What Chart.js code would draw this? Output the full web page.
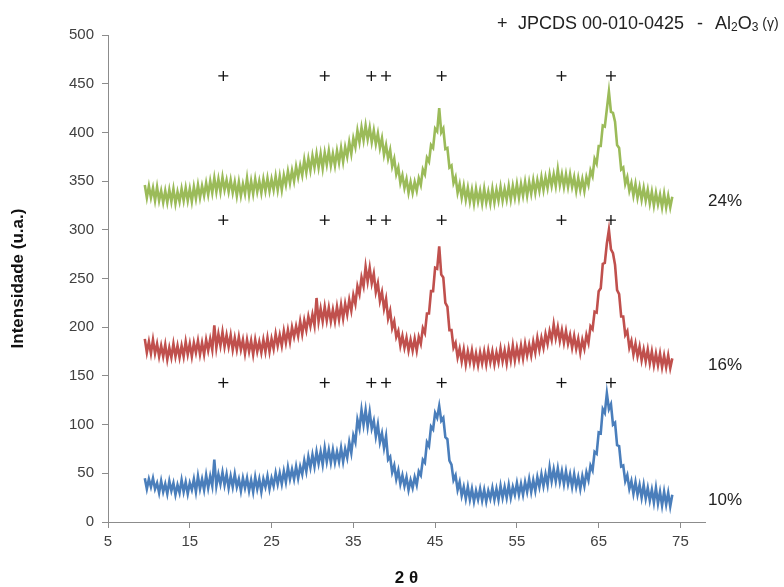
<!DOCTYPE html>
<html>
<head>
<meta charset="utf-8">
<script src="https://cdn.jsdelivr.net/npm/chart.js@4.4.0/dist/chart.umd.min.js"></script>
<style>
    html, body { margin: 0; padding: 0; background: #fff; }
    #wrap { width: 784px; height: 587px; position: relative; }
</style>
</head>
<body>
<div id="wrap"><canvas id="xrd"></canvas></div>
<script>
const FONT = '"Liberation Sans", Arial, sans-serif';

// scan grid (2 theta, degrees)
const scanStart = 9.5;
const scanStep = 0.25;

// axis ticks
const xTicks = [5, 15, 25, 35, 45, 55, 65, 75];
const yTicks = [0, 50, 100, 150, 200, 250, 300, 350, 400, 450, 500];

// JPCDS 00-010-0425 reflections and the heights where the + rows sit
const refPeaks = [19.1, 31.5, 37.2, 39.0, 45.8, 60.45, 66.5];
const markerRows = [458, 310, 143];

const sampleLabels = ['24%', '16%', '10%'];
const sampleLabelLevels = [329, 161, 22];

// intensities, one row per degree (9.5 .. 74.0)
const pattern10 = [
    45, 34,
    44, 36, 45, 34,
    40, 30, 42, 31,
    39, 29, 42, 32,
    40, 28, 38, 30,
    43, 31, 41, 29,
    40, 33, 44, 31,
    47, 34, 44, 33,
    48, 35, 47, 37,
    64, 37, 49, 39,
    51, 38, 49, 35,
    47, 36, 49, 36,
    44, 32, 45, 35,
    45, 32, 43, 31,
    46, 34, 44, 31,
    44, 36, 47, 34,
    45, 37, 50, 39,
    50, 39, 52, 41,
    56, 44, 54, 44,
    57, 45, 57, 49,
    63, 52, 67, 56,
    69, 57, 72, 60,
    72, 59, 76, 62,
    74, 61, 74, 61,
    72, 62, 76, 62,
    75, 66, 82, 71,
    89, 82, 105, 96,
    115, 100, 115, 98,
    113, 96, 104, 88,
    100, 82, 91, 76,
    88, 64, 67, 51,
    58, 44, 53, 39,
    48, 37, 46, 33,
    43, 35, 46, 38,
    52, 48, 64, 61,
    82, 78, 98, 95,
    112, 107, 119, 104,
    107, 87, 85, 63,
    59, 43, 48, 33,
    41, 27, 36, 24,
    36, 23, 34, 21,
    32, 23, 34, 22,
    33, 21, 32, 24,
    35, 23, 34, 23,
    37, 25, 36, 25,
    38, 25, 36, 28,
    40, 28, 39, 28,
    41, 31, 44, 31,
    43, 32, 46, 36,
    49, 37, 49, 38,
    56, 42, 54, 42,
    55, 41, 52, 39,
    52, 39, 49, 36,
    49, 36, 46, 34,
    47, 37, 51, 43,
    58, 53, 72, 70,
    92, 91, 116, 112,
    132, 116, 121, 100,
    102, 79, 78, 57,
    58, 42, 48, 34,
    42, 29, 41, 28,
    38, 25, 38, 24,
    35, 22, 33, 20,
    35, 19, 31, 17,
    31, 18, 30, 16,
    28
];

const pattern16 = [
    188, 174,
    185, 173, 187, 173,
    183, 170, 181, 170,
    182, 167, 179, 169,
    183, 170, 181, 169,
    181, 170, 185, 172,
    183, 170, 184, 174,
    186, 172, 184, 172,
    187, 176, 188, 177,
    202, 179, 193, 181,
    195, 180, 192, 180,
    192, 177, 189, 177,
    190, 177, 187, 173,
    187, 175, 186, 172,
    187, 175, 185, 174,
    187, 175, 189, 175,
    188, 178, 193, 181,
    192, 181, 196, 184,
    197, 185, 200, 190,
    201, 191, 206, 193,
    207, 197, 211, 201,
    213, 202, 230, 206,
    219, 206, 221, 207,
    220, 206, 218, 206,
    221, 208, 223, 209,
    224, 213, 228, 217,
    233, 224, 242, 234,
    251, 242, 262, 247,
    261, 245, 255, 236,
    245, 227, 236, 219,
    229, 209, 217, 199,
    206, 190, 196, 181,
    191, 179, 189, 176,
    187, 176, 188, 176,
    190, 183, 199, 194,
    214, 214, 237, 237,
    261, 260, 283, 254,
    251, 225, 221, 197,
    197, 179, 184, 169,
    178, 165, 177, 162,
    175, 164, 176, 162,
    173, 161, 174, 163,
    175, 162, 176, 164,
    175, 162, 174, 164,
    178, 165, 176, 163,
    178, 166, 181, 166,
    179, 168, 181, 168,
    183, 171, 182, 171,
    185, 174, 189, 177,
    189, 179, 193, 183,
    196, 187, 203, 189,
    200, 186, 197, 184,
    196, 183, 192, 179,
    191, 178, 188, 174,
    187, 178, 192, 184,
    201, 198, 216, 215,
    237, 240, 265, 266,
    286, 300, 280, 276,
    264, 238, 234, 211,
    211, 192, 196, 179,
    186, 172, 183, 170,
    180, 166, 177, 165,
    177, 163, 175, 161,
    173, 161, 173, 159,
    171, 159, 171, 158,
    168
];

const pattern24 = [
    346, 333,
    345, 333, 343, 330,
    344, 330, 340, 328,
    340, 328, 341, 329,
    342, 327, 339, 329,
    342, 330, 343, 330,
    342, 329, 344, 332,
    346, 333, 345, 335,
    348, 336, 350, 338,
    353, 339, 352, 339,
    354, 341, 351, 339,
    351, 338, 349, 335,
    349, 335, 347, 337,
    353, 336, 350, 337,
    352, 339, 350, 338,
    352, 340, 353, 340,
    352, 341, 355, 341,
    355, 341, 356, 346,
    360, 348, 361, 350,
    365, 354, 366, 356,
    372, 359, 373, 361,
    376, 364, 378, 364,
    378, 363, 379, 367,
    381, 366, 378, 366,
    381, 369, 384, 370,
    385, 375, 390, 378,
    394, 385, 402, 390,
    405, 392, 407, 393,
    405, 390, 402, 388,
    399, 384, 394, 377,
    387, 373, 382, 365,
    373, 357, 364, 348,
    356, 343, 352, 338,
    349, 338, 349, 340,
    353, 346, 362, 357,
    374, 370, 387, 384,
    404, 401, 425, 400,
    404, 383, 384, 364,
    366, 348, 354, 338,
    347, 333, 345, 331,
    343, 329, 341, 327,
    342, 329, 340, 327,
    342, 328, 339, 327,
    342, 328, 341, 330,
    344, 330, 342, 331,
    345, 331, 345, 333,
    347, 333, 347, 335,
    349, 335, 349, 337,
    351, 338, 351, 340,
    354, 341, 354, 343,
    357, 345, 357, 345,
    362, 346, 357, 344,
    357, 344, 357, 344,
    354, 340, 353, 341,
    352, 340, 354, 346,
    361, 355, 373, 368,
    386, 386, 407, 406,
    424, 442, 421, 420,
    411, 387, 384, 362,
    364, 347, 354, 340,
    348, 335, 347, 333,
    344, 331, 343, 330,
    341, 327, 339, 325,
    338, 326, 336, 323,
    337, 323, 335, 323,
    334
];

function toPoints(values) {
    return values.map((v, i) => ({ x: scanStart + i * scanStep, y: v }));
}

const markerPoints = [];
markerRows.forEach(level => {
    refPeaks.forEach(angle => markerPoints.push({ x: angle, y: level }));
});

// labels on the right and the reference card at the top
const textLabels = {
    id: 'textLabels',
    afterDraw(chart) {
        const ctx = chart.ctx;
        const area = chart.chartArea;
        const yScale = chart.scales.y;
        ctx.save();
        ctx.fillStyle = '#222';
        ctx.textBaseline = 'middle';
        ctx.textAlign = 'center';
        ctx.font = '17px ' + FONT;
        sampleLabels.forEach((txt, i) => {
            ctx.fillText(txt, area.right + 20, yScale.getPixelForValue(sampleLabelLevels[i]));
        });

        ctx.textAlign = 'left';
        const y = 24;
        ctx.font = '18px ' + FONT;
        ctx.fillText('+', 497, y);
        ctx.fillText('JPCDS 00-010-0425', 518, y);
        ctx.fillText('-', 697, y);
        let x = 715;
        const put = (t, size, dy) => {
            ctx.font = size + 'px ' + FONT;
            ctx.fillText(t, x, y + (dy || 0));
            x += ctx.measureText(t).width;
        };
        put('Al', 18);
        put('2', 12, 4);
        put('O', 18);
        put('3', 12, 4);
        put(' (\u03b3)', 14);
        ctx.restore();
    }
};

const axisColor = '#8c8c8c';

new Chart(document.getElementById('xrd'), {
    type: 'line',
    data: {
        datasets: [{
            type: 'scatter',
            label: 'JPCDS 00-010-0425',
            data: markerPoints,
            pointStyle: 'cross',
            pointRadius: 5,
            borderColor: '#111',
            borderWidth: 1.3,
            order: 0
        },
        {
            label: '24%',
            data: toPoints(pattern24),
            borderColor: '#9bbb59',
            borderWidth: 2.6,
            pointRadius: 0,
            tension: 0,
            order: 1
        },
        {
            label: '16%',
            data: toPoints(pattern16),
            borderColor: '#c0504d',
            borderWidth: 2.6,
            pointRadius: 0,
            tension: 0,
            order: 1
        },
        {
            label: '10%',
            data: toPoints(pattern10),
            borderColor: '#4a7ebb',
            borderWidth: 2.6,
            pointRadius: 0,
            tension: 0,
            order: 1
        }]
    },
    options: {
        responsive: true,
        maintainAspectRatio: false,
        animation: false,
        layout: { padding: { top: 35, right: 79, bottom: 0, left: 0 } },
        plugins: {
            legend: { display: false },
            tooltip: { enabled: false }
        },
        scales: {
            x: {
                type: 'linear',
                min: 5,
                max: 78,
                afterBuildTicks: s => { s.ticks = xTicks.map(v => ({ value: v })); },
                afterFit: s => { s.height = 65; },
                ticks: { color: '#404040', font: { size: 15, family: FONT }, padding: 5, maxRotation: 0 },
                grid: { drawOnChartArea: false, tickLength: 6, color: axisColor },
                border: { color: axisColor },
                title: {
                    display: true,
                    text: '2 \u03b8',
                    color: '#111',
                    font: { size: 17, weight: 'bold', family: FONT, lineHeight: 1 },
                    padding: { top: 0, bottom: 0 }
                }
            },
            y: {
                min: 0,
                max: 500,
                afterBuildTicks: s => { s.ticks = yTicks.map(v => ({ value: v })); },
                afterFit: s => { s.width = 108; },
                ticks: { color: '#404040', font: { size: 15, family: FONT }, padding: 8 },
                grid: { drawOnChartArea: false, tickLength: 6, color: axisColor },
                border: { color: axisColor },
                title: {
                    display: true,
                    text: 'Intensidade (u.a.)',
                    color: '#111',
                    font: { size: 17, weight: 'bold', family: FONT, lineHeight: 1 },
                    padding: { top: 10, bottom: 0 }
                }
            }
        }
    },
    plugins: [textLabels]
});
</script>
</body>
</html>
